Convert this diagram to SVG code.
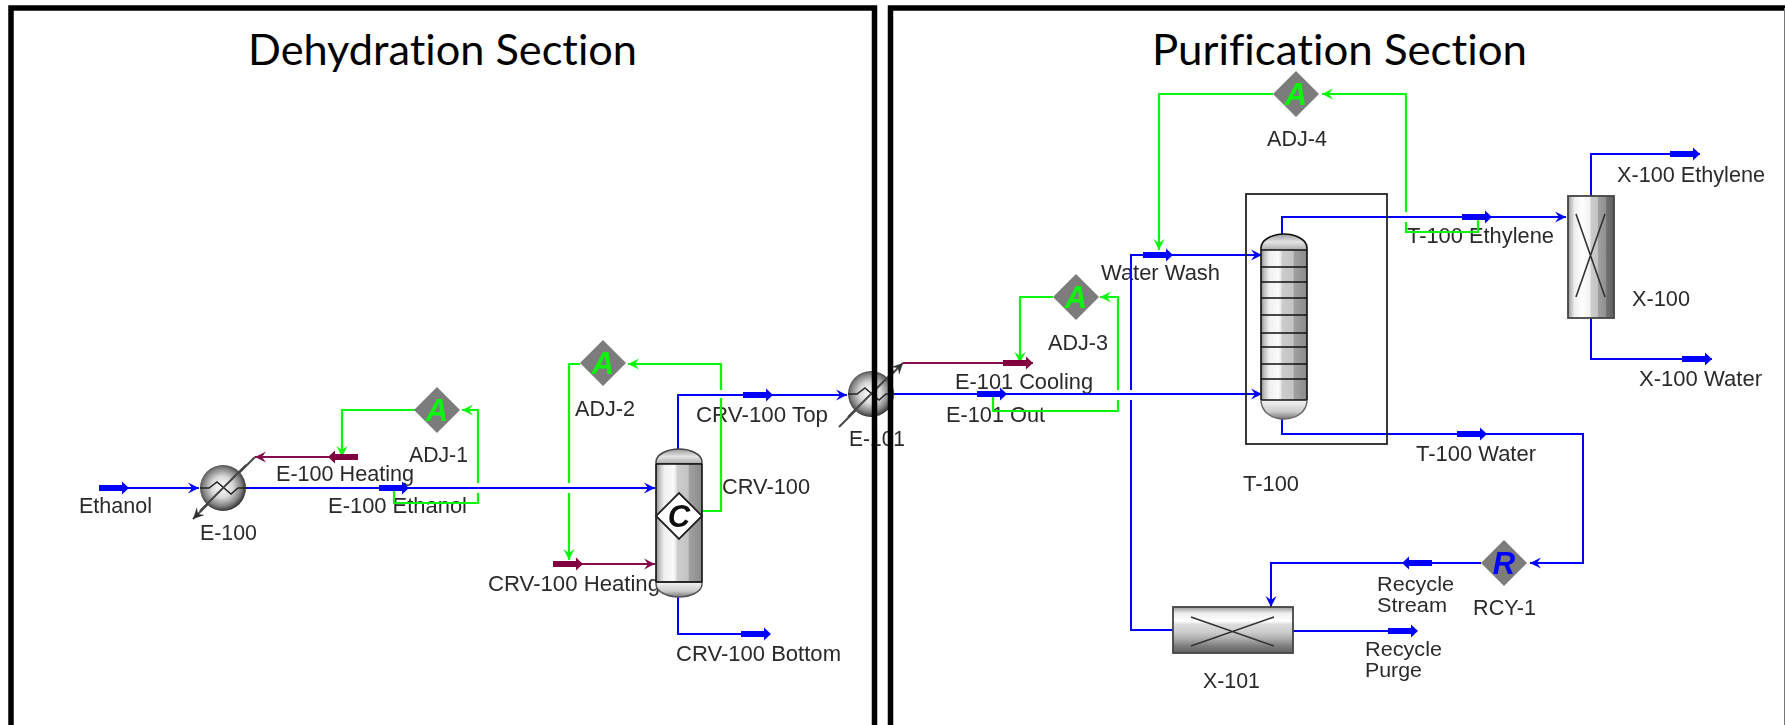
<svg xmlns="http://www.w3.org/2000/svg" width="1785" height="725" viewBox="0 0 1785 725">
<style>
text{font-family:"Liberation Sans",Arial,sans-serif;font-size:22px;fill:#2a2a2a}
text.tight{font-size:20.5px}
.title{font-family:Lato,"Open Sans",sans-serif;font-size:42px;fill:#000;font-variant-ligatures:none}
.l{fill:none;stroke-width:2}
.b{stroke:#0000ff}.g{stroke:#10f510;stroke-width:2.2}.m{stroke:#85104f}.d{stroke:#444}
.fb{fill:#0000ff}.fm{fill:#800040}
.dia{fill:#7b7b7b}
text.big{font-size:31px;font-weight:bold;font-style:italic;text-anchor:middle}
text.ga{fill:#10f510}
.tray{stroke:#111;stroke-width:1.600;fill:none}
.zig{stroke:#222;stroke-width:1.400;fill:none}
.x{stroke:#333;stroke-width:1.600;fill:none}
</style>
<defs>
<filter id="soft" x="0" y="0" width="1785" height="725" filterUnits="userSpaceOnUse"><feGaussianBlur stdDeviation="0.45"/></filter>
<linearGradient id="vcol" x1="0" x2="1" y1="0" y2="0">
<stop offset="0" stop-color="#8c8c8c"/><stop offset=".08" stop-color="#c4c4c4"/><stop offset=".18" stop-color="#f0f0f0"/><stop offset=".38" stop-color="#fafafa"/><stop offset=".44" stop-color="#e4e4e4"/><stop offset=".46" stop-color="#cccccc"/><stop offset=".7" stop-color="#c4c4c4"/><stop offset=".72" stop-color="#a0a0a0"/><stop offset="1" stop-color="#8a8a8a"/>
</linearGradient>
<linearGradient id="xv" x1="0" x2="1" y1="0" y2="0">
<stop offset="0" stop-color="#999"/><stop offset=".14" stop-color="#eee"/><stop offset=".3" stop-color="#fff"/><stop offset=".48" stop-color="#f0f0f0"/><stop offset=".5" stop-color="#ccc"/><stop offset=".64" stop-color="#c4c4c4"/><stop offset=".66" stop-color="#a0a0a0"/><stop offset=".82" stop-color="#909090"/><stop offset=".84" stop-color="#707070"/><stop offset="1" stop-color="#606060"/>
</linearGradient>
<linearGradient id="xh" x1="0" x2="0" y1="0" y2="1">
<stop offset="0" stop-color="#999"/><stop offset=".14" stop-color="#eee"/><stop offset=".3" stop-color="#fff"/><stop offset=".38" stop-color="#ddd"/><stop offset=".55" stop-color="#ccc"/><stop offset=".7" stop-color="#aaa"/><stop offset=".84" stop-color="#808080"/><stop offset="1" stop-color="#606060"/>
</linearGradient>
<linearGradient id="capT" x1="0" x2="0" y1="0" y2="1"><stop offset="0" stop-color="#999"/><stop offset=".5" stop-color="#e4e4e4"/><stop offset="1" stop-color="#aaa"/></linearGradient>
<linearGradient id="capB" x1="0" x2="0" y1="0" y2="1"><stop offset="0" stop-color="#f4f4f4"/><stop offset=".6" stop-color="#ccc"/><stop offset="1" stop-color="#777"/></linearGradient>
<radialGradient id="hx" cx=".48" cy=".48" r=".52"><stop offset="0" stop-color="#fff"/><stop offset=".45" stop-color="#d8d8d8"/><stop offset=".8" stop-color="#808080"/><stop offset="1" stop-color="#333"/></radialGradient>
<path id="stub" d="M0-3h23v-3.500l7 6.500-7 6.500v-3.500h-23z"/>
<marker id="ab" markerUnits="userSpaceOnUse" markerWidth="13" markerHeight="12" viewBox="0 0 13 12" refX="12" refY="6" orient="auto"><path d="M1 0.500L12 6 1 11.500 5 6z" fill="#0000ff"/></marker>
<marker id="ag" markerUnits="userSpaceOnUse" markerWidth="13" markerHeight="12" viewBox="0 0 13 12" refX="12" refY="6" orient="auto"><path d="M1 0.500L12 6 1 11.500 5 6z" fill="#10f510"/></marker>
<marker id="am" markerUnits="userSpaceOnUse" markerWidth="13" markerHeight="12" viewBox="0 0 13 12" refX="12" refY="6" orient="auto"><path d="M1 0.500L12 6 1 11.500 5 6z" fill="#85104f"/></marker>
<marker id="ad" markerUnits="userSpaceOnUse" markerWidth="13" markerHeight="12" viewBox="0 0 13 12" refX="12" refY="6" orient="auto"><path d="M1 0.500L12 6 1 11.500 5 6z" fill="#333"/></marker>
</defs>
<rect width="1785" height="725" fill="#fff"/>
<g id="diagram" filter="url(#soft)">
<g id="stream-labels">
<text x="79" y="513" textLength="73" lengthAdjust="spacingAndGlyphs">Ethanol</text>
<text x="276" y="481" textLength="138" lengthAdjust="spacingAndGlyphs">E-100 Heating</text>
<text x="328" y="513" textLength="139" lengthAdjust="spacingAndGlyphs">E-100 Ethanol</text>
<text x="696" y="422" textLength="132" lengthAdjust="spacingAndGlyphs">CRV-100 Top</text>
<text x="488" y="591" textLength="172" lengthAdjust="spacingAndGlyphs">CRV-100 Heating</text>
<text x="676" y="661" textLength="165" lengthAdjust="spacingAndGlyphs">CRV-100 Bottom</text>
<text x="955" y="389" textLength="138" lengthAdjust="spacingAndGlyphs">E-101 Cooling</text>
<text x="946" y="422" textLength="99" lengthAdjust="spacingAndGlyphs">E-101 Out</text>
<text x="1101" y="280" textLength="119" lengthAdjust="spacingAndGlyphs">Water Wash</text>
<text x="1407" y="243" textLength="147" lengthAdjust="spacingAndGlyphs">T-100 Ethylene</text>
<text x="1416" y="461" textLength="120" lengthAdjust="spacingAndGlyphs">T-100 Water</text>
<text x="1617" y="182" textLength="148" lengthAdjust="spacingAndGlyphs">X-100 Ethylene</text>
<text x="1639" y="386" textLength="123" lengthAdjust="spacingAndGlyphs">X-100 Water</text>
<text class="tight" x="1377" y="591" textLength="77" lengthAdjust="spacingAndGlyphs">Recycle</text>
<text class="tight" x="1377" y="612" textLength="70" lengthAdjust="spacingAndGlyphs">Stream</text>
<text class="tight" x="1365" y="656" textLength="77" lengthAdjust="spacingAndGlyphs">Recycle</text>
<text class="tight" x="1365" y="677" textLength="57" lengthAdjust="spacingAndGlyphs">Purge</text>
</g>
<g id="connectors">
<path class="l b" d="M99 488H199" marker-end="url(#ab)"/>
<path class="l b" d="M246 488H655" marker-end="url(#ab)"/>
<path class="l d" d="M255 457L193 519" marker-end="url(#ad)"/>
<path class="l m" d="M358 457H255" marker-end="url(#am)"/>
<path class="l g" d="M415 410H342V457" marker-end="url(#ag)"/>
<path class="l g" d="M394 489V503H478V493M478 483V410H462" marker-end="url(#ag)"/>
<path class="l b" d="M678 450V395H847" marker-end="url(#ab)"/>
<path class="l b" d="M678 597V634H770"/>
<path class="l m" d="M553 564H655" marker-end="url(#am)"/>
<path class="l g" d="M580 364H569V483M569 493V560" marker-end="url(#ag)"/>
<path class="l g" d="M702 511H721V398M721 390V364H628" marker-end="url(#ag)"/>
<path class="l d" d="M839 427L903 363" marker-end="url(#ad)"/>
<path class="l m" d="M903 363H1033"/>
<path class="l b" d="M893 394H1262" marker-end="url(#ab)"/>
<path class="l g" d="M993 394V411H1118V400M1118 390V297H1100" marker-end="url(#ag)"/>
<path class="l g" d="M1053 297H1020V363" marker-end="url(#ag)"/>
<path class="l b" d="M1173 630H1131V400M1131 390V255H1262" marker-end="url(#ab)"/>
<path class="l g" d="M1273 94H1159V250" marker-end="url(#ag)"/>
<path class="l g" d="M1478 218V232H1406V222M1406 212V94H1322" marker-end="url(#ag)"/>
<path class="l b" d="M1282 234V217H1566" marker-end="url(#ab)"/>
<path class="l b" d="M1282 419V434H1583V563H1530" marker-end="url(#ab)"/>
<path class="l b" d="M1481 563H1271V607" marker-end="url(#ab)"/>
<path class="l b" d="M1293 631H1417"/>
<path class="l b" d="M1591 196V154H1700"/>
<path class="l b" d="M1591 318V359H1712"/>
<use href="#stub" class="fb" transform="translate(99 488)"/>
<use href="#stub" class="fb" transform="translate(379 488)"/>
<use href="#stub" class="fm" transform="translate(358 457) scale(-1 1)"/>
<use href="#stub" class="fb" transform="translate(743 395)"/>
<use href="#stub" class="fm" transform="translate(553 564)"/>
<use href="#stub" class="fb" transform="translate(741 634)"/>
<use href="#stub" class="fm" transform="translate(1003 363)"/>
<use href="#stub" class="fb" transform="translate(977 394)"/>
<use href="#stub" class="fb" transform="translate(1143 255)"/>
<use href="#stub" class="fb" transform="translate(1462 217)"/>
<use href="#stub" class="fb" transform="translate(1457 434)"/>
<use href="#stub" class="fb" transform="translate(1432 563) scale(-1 1)"/>
<use href="#stub" class="fb" transform="translate(1388 631)"/>
<use href="#stub" class="fb" transform="translate(1670 154)"/>
<use href="#stub" class="fb" transform="translate(1682 359)"/>
</g>
<g id="E-100">
<circle cx="223" cy="488" r="23" fill="url(#hx)"/>
<path class="zig" d="M200 488H209L217 482 231 494 238 488H247"/>
<path class="l d" d="M200 511L246 465"/>
<text x="200" y="540" textLength="57" lengthAdjust="spacingAndGlyphs">E-100</text>
</g>
<g id="ADJ-1">
<path class="dia" d="M437 387L460 410 437 433 414 410z"/>
<text class="big ga" x="437" y="421">A</text>
<text x="409" y="462" textLength="59" lengthAdjust="spacingAndGlyphs">ADJ-1</text>
</g>
<g id="ADJ-2">
<path class="dia" d="M603 340L626 363 603 386 580 363z"/>
<text class="big ga" x="603" y="374">A</text>
<text x="575" y="416" textLength="60" lengthAdjust="spacingAndGlyphs">ADJ-2</text>
</g>
<g id="CRV-100">
<path d="M656 464V462C656 454 668 449 679 449S702 454 702 462V464z" fill="url(#capT)" stroke="#444" stroke-width="1.500"/>
<rect x="656" y="464" width="46" height="118" fill="url(#vcol)"/>
<path d="M656 582V584C656 592 668 597 679 597S702 592 702 584V582z" fill="url(#capB)" stroke="#555" stroke-width="1.500"/>
<path class="tray" d="M656 464H702M656 582H702M656 464V582M702 464V582"/>
<path d="M679 493L702 516 679 539 656 516z" fill="#fff" stroke="#222" stroke-width="1.800"/>
<text class="big" x="679" y="527" style="fill:#111">C</text>
<text x="722" y="494" textLength="88" lengthAdjust="spacingAndGlyphs">CRV-100</text>
</g>
<g id="E-101">
<circle cx="871" cy="394" r="23" fill="url(#hx)"/>
<path class="zig" d="M848 394H857L865 388 879 400 886 394H895"/>
<path class="l d" d="M848 417L894 371"/>
<text x="849" y="446" textLength="56" lengthAdjust="spacingAndGlyphs">E-101</text>
</g>
<g id="ADJ-3">
<path class="dia" d="M1076 274L1099 297 1076 320 1053 297z"/>
<text class="big ga" x="1076" y="308">A</text>
<text x="1048" y="350" textLength="60" lengthAdjust="spacingAndGlyphs">ADJ-3</text>
</g>
<g id="ADJ-4">
<path class="dia" d="M1296 71L1319 94 1296 117 1273 94z"/>
<text class="big ga" x="1296" y="105">A</text>
<text x="1267" y="146" textLength="60" lengthAdjust="spacingAndGlyphs">ADJ-4</text>
</g>
<g id="T-100">
<rect x="1246" y="194" width="141" height="250" fill="none" stroke="#222" stroke-width="1.800"/>
<path d="M1261 250V248C1261 240 1272 234 1284 234S1307 240 1307 248V250z" fill="url(#capT)"/>
<rect x="1261" y="250" width="46" height="150" fill="url(#vcol)"/>
<path d="M1261 400C1261 412 1272 419 1284 419S1307 412 1307 400z" fill="url(#capB)"/>
<path class="tray" d="M1261 400V248C1261 240 1272 234 1284 234S1307 240 1307 248V400"/>
<path class="tray" d="M1261 250H1307M1261 267H1307M1261 282H1307M1261 298H1307M1261 315H1307M1261 333H1307M1261 347H1307M1261 364H1307M1261 379H1307M1261 400H1307"/>
<path d="M1261 400C1261 412 1272 419 1284 419S1307 412 1307 400" fill="none" stroke="#666" stroke-width="1.500"/>
<text x="1243" y="491" textLength="56" lengthAdjust="spacingAndGlyphs">T-100</text>
</g>
<g id="X-100">
<rect x="1568" y="196" width="46" height="122" fill="url(#xv)" stroke="#444" stroke-width="1.800"/>
<path class="x" d="M1576 214L1605 297M1605 214L1576 297"/>
<text x="1632" y="306" textLength="58" lengthAdjust="spacingAndGlyphs">X-100</text>
</g>
<g id="RCY-1">
<path class="dia" d="M1504 540L1527 563 1504 586 1481 563z"/>
<text class="big" x="1504" y="574" style="fill:#0000ff">R</text>
<text x="1473" y="615" textLength="63" lengthAdjust="spacingAndGlyphs">RCY-1</text>
</g>
<g id="X-101">
<rect x="1173" y="607" width="120" height="46" fill="url(#xh)" stroke="#444" stroke-width="1.800"/>
<path class="x" d="M1191 617L1274 646M1274 617L1191 646"/>
<text x="1203" y="688" textLength="57" lengthAdjust="spacingAndGlyphs">X-101</text>
</g>
</g>
<g id="frames" fill="none" stroke="#000" stroke-width="5.500">
<path d="M11 725V8H874.500V725"/>
<path d="M890.500 725V8H1785"/>
<path d="M1784.500 8V725" stroke="#777" stroke-width="1"/>
</g>
<g id="titles">
<text class="title" x="248" y="64.500" textLength="389" lengthAdjust="spacingAndGlyphs">Dehydration Section</text>
<text class="title" x="1152" y="64.500" textLength="375" lengthAdjust="spacingAndGlyphs">Purification Section</text>
</g>
</svg>
